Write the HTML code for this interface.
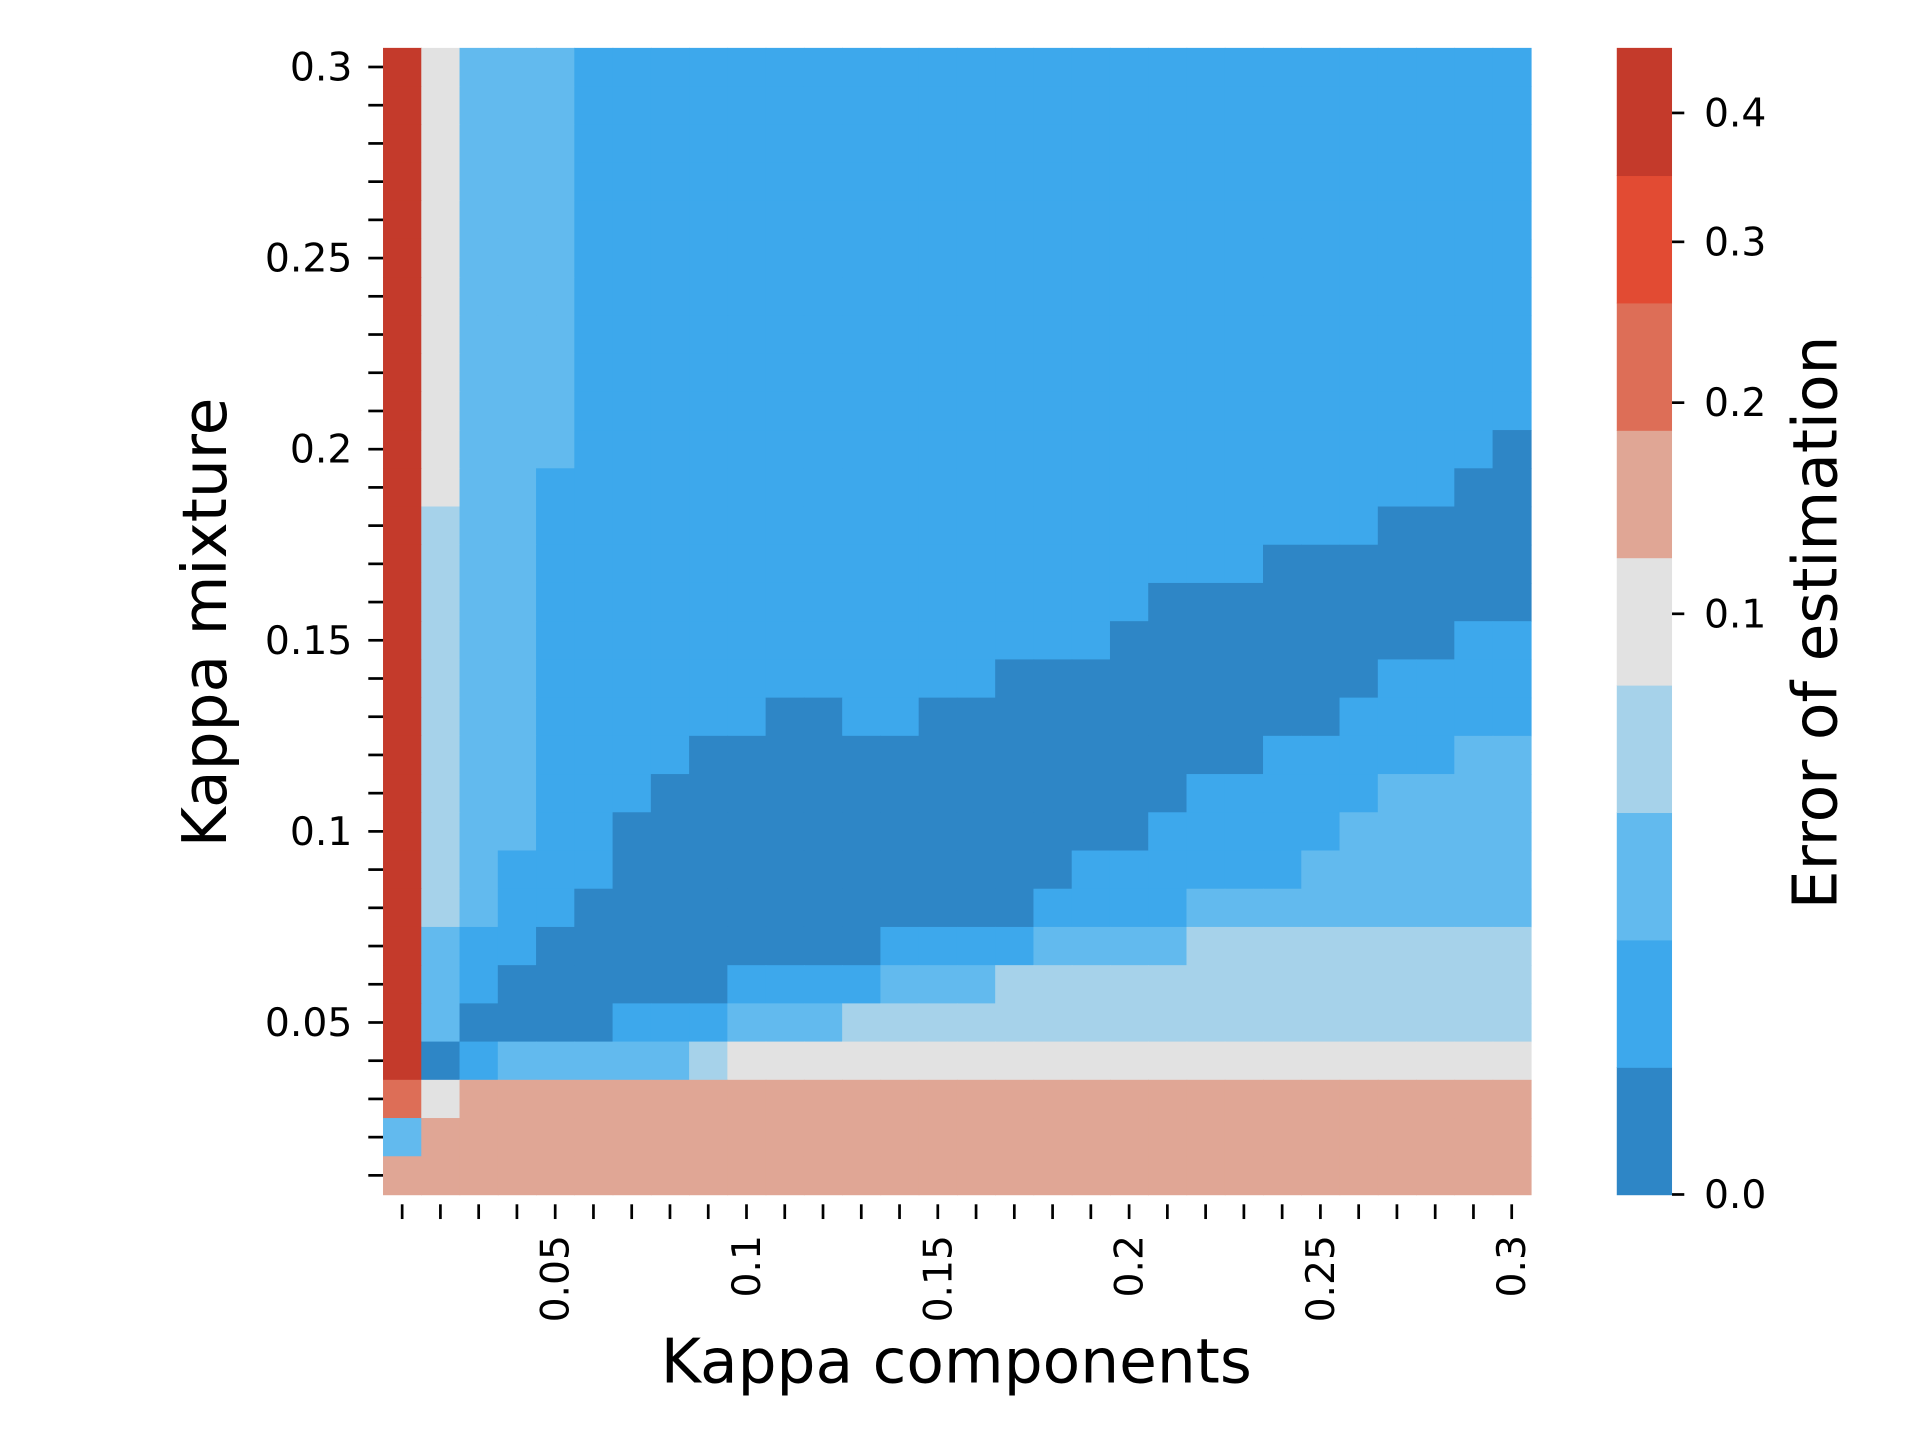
<!DOCTYPE html>
<html><head><meta charset="utf-8"><style>
html,body{margin:0;padding:0;background:#fff;}
svg{display:block;font-family:"DejaVu Sans","Liberation Sans",sans-serif;}
</style></head><body>
<svg id="chart" width="1920" height="1440" viewBox="0 0 1564 1173" preserveAspectRatio="none" xmlns="http://www.w3.org/2000/svg">
<g id="cells"></g>
<g id="yaxis"></g>
<g id="xaxis"></g>
<g id="cbar"></g>
<text x="779" y="1126" font-size="50" text-anchor="middle">Kappa components</text>
<text transform="translate(184,507) rotate(-90)" font-size="50" text-anchor="middle">Kappa mixture</text>
<text transform="translate(1496,507) rotate(-90)" font-size="50" text-anchor="middle">Error of estimation</text>
</svg>
<script>
// level index per cell, rows listed top (kappa 0.30) to bottom (kappa 0.01)
const gridRows = [
"842221111111111111111111111111",
"842221111111111111111111111111",
"842221111111111111111111111111",
"842221111111111111111111111111",
"842221111111111111111111111111",
"842221111111111111111111111111",
"842221111111111111111111111111",
"842221111111111111111111111111",
"842221111111111111111111111111",
"842221111111111111111111111111",
"842221111111111111111111111110",
"842211111111111111111111111100",
"832211111111111111111111110000",
"832211111111111111111110000000",
"832211111111111111110000000000",
"832211111111111111100000000011",
"832211111111111100000000001111",
"832211111100110000000000011111",
"832211110000000000000001111122",
"832211100000000000000111112222",
"832211000000000000001111122222",
"832111000000000000111111222222",
"832110000000000001111222222222",
"821100000000011112222333333333",
"821000000111122233333333333333",
"820000111222333333333333333333",
"801222223444444444444444444444",
"645555555555555555555555555555",
"255555555555555555555555555555",
"555555555555555555555555555555"
];
const levelColors = ["#2e86c6","#3da8ec","#62baee","#a6d2ea","#e2e2e2","#e0a695","#dd6e57","#e24b33","#c43a2b"];
const xTickLabels = ["0.05","0.1","0.15","0.2","0.25","0.3"];
const xTickCols = [4,9,14,19,24,29];
const yTickLabels = ["0.05","0.1","0.15","0.2","0.25","0.3"];
const yTickRows = [4,9,14,19,24,29];
const cbarTickLabels = ["0.0","0.1","0.2","0.3","0.4"];
const cbarTickValues = [0,0.1,0.2,0.3,0.4];

const NS="http://www.w3.org/2000/svg";
const X0=312,X1=1247,Y0=39,Y1=973;
const nCols=gridRows[0].length,nRows=gridRows.length;
const cw=(X1-X0)/nCols,ch=(Y1-Y0)/nRows;
function xCol(c){return X0+c*cw;}
function yRowFromBottom(r){return Y1-(r+1)*ch;}
function mk(t,a){const e=document.createElementNS(NS,t);for(const k in a)e.setAttribute(k,a[k]);return e;}

const cells=document.getElementById('cells');
gridRows.forEach((row,i)=>{
  const r=nRows-1-i;
  for(let c=0;c<nCols;c++){
    const el=mk('rect',{x:xCol(c),y:yRowFromBottom(r),width:cw+0.6,height:ch+0.6,fill:levelColors[+row[c]]});
    
    
    cells.appendChild(el);
  }
});

const ya=document.getElementById('yaxis');
for(let r=0;r<nRows;r++){
  const y=yRowFromBottom(r)+ch/2;
  const t=mk('line',{x1:300,x2:312,y1:y,y2:y,stroke:'#000','stroke-width':2.2});
  
  
  ya.appendChild(t);
}
yTickLabels.forEach((lab,i)=>{
  const y=yRowFromBottom(yTickRows[i])+ch/2;
  const t=mk('text',{x:287,y:y+11,'font-size':32,'text-anchor':'end'});
  t.textContent=lab;
  
  
  ya.appendChild(t);
});

const xa=document.getElementById('xaxis');
for(let c=0;c<nCols;c++){
  const x=xCol(c)+cw/2;
  const t=mk('line',{x1:x,x2:x,y1:981,y2:993,stroke:'#000','stroke-width':2.2});
  
  
  xa.appendChild(t);
}
xTickLabels.forEach((lab,i)=>{
  const x=xCol(xTickCols[i])+cw/2;
  const t=mk('text',{transform:`translate(${x+11},1006) rotate(-90)`,'font-size':32,'text-anchor':'end'});
  t.textContent=lab;
  
  
  xa.appendChild(t);
});

const cb=document.getElementById('cbar');
const CX0=1317,CX1=1362;
const segH=(Y1-Y0)/levelColors.length;
levelColors.forEach((col,i)=>{
  const el=mk('rect',{x:CX0,y:Y1-(i+1)*segH,width:CX1-CX0,height:segH+0.6,fill:col});
  
  
  cb.appendChild(el);
});
const cbVals=[0,0.1,0.2,0.3,0.4];
const cbYs=[973,500,328,197,92];
function cbY(v){
  for(let i=0;i<cbVals.length-1;i++){
    if(v<=cbVals[i+1]){const f=(v-cbVals[i])/(cbVals[i+1]-cbVals[i]);return cbYs[i]+f*(cbYs[i+1]-cbYs[i]);}
  }
  return cbYs[cbYs.length-1];
}
cbarTickValues.forEach((v,i)=>{
  const y=cbY(v);
  const t=mk('line',{x1:CX1,x2:CX1+10,y1:y,y2:y,stroke:'#000','stroke-width':2.2});
  
  
  cb.appendChild(t);
  const l=mk('text',{x:1388,y:y+11,'font-size':32});
  l.textContent=cbarTickLabels[i];
  
  
  cb.appendChild(l);
});
</script>
</body></html>
